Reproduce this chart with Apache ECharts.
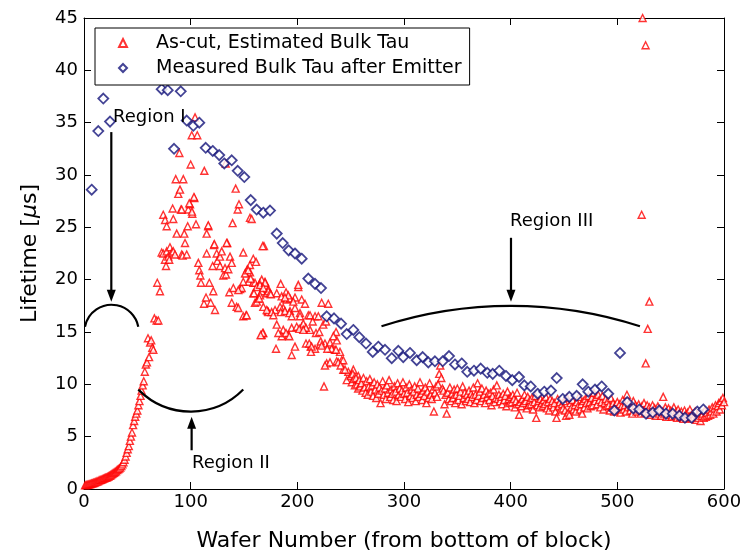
<!DOCTYPE html>
<html>
<head>
<meta charset="utf-8">
<script src="https://cdn.jsdelivr.net/npm/echarts@6/dist/echarts.min.js"></script>
<style>
  html, body { margin: 0; padding: 0; background: #fff; }
  #chart { width: 742px; height: 552px; }
</style>
</head>
<body>
<div id="chart"></div>
<script>
const FONT = 'DejaVu Sans';

// as-cut estimated bulk tau, bottom of block: one wafer each from wafer 1
const riseStart = 1;
const riseTau = [
  0.35, 0.38, 0.40, 0.42, 0.45, 0.48, 0.52, 0.55, 0.58, 0.62,
  0.66, 0.70, 0.74, 0.80, 0.85, 0.88, 0.92, 0.98, 1.02, 1.06,
  1.10, 1.15, 1.20, 1.25, 1.32, 1.40, 1.48, 1.55, 1.62, 1.70,
  1.80, 1.88, 1.95, 2.05, 2.20, 2.35, 2.55, 2.80, 3.10, 3.45,
  3.80, 4.10, 4.60, 5.00, 5.40, 6.10, 6.50, 6.90, 7.20, 7.50,
  8.00, 8.40, 8.90, 9.40, 9.90, 10.30, 11.20, 11.90, 12.10, 14.40,
  12.60, 14.00, 14.20, 13.50, 13.30, 16.30
];

// as-cut, scattered region (wafer, tau)
const peakPoints = [
  [68.1, 16.1], [69.7, 16.1], [68.7, 19.7], [71.2, 18.9], [72.8, 22.6], [74.3, 26.2], [76, 25.7], [77.5, 25.1],
  [74.3, 22.5], [75.9, 21.9], [76.9, 21.3], [77.5, 22.7], [79, 22.2], [79.9, 21.9], [80.6, 23.1], [82.2, 22.6],
  [83.7, 22.7], [83.7, 25.8], [83.1, 26.8], [85.3, 22.4], [86, 29.6], [86.9, 24.4], [88.4, 28.2], [89.4, 32.1],
  [90, 28.6], [90.9, 26.7], [91.6, 22.4], [92.5, 22.3], [93.1, 29.6], [94, 24.4], [94.7, 23.5], [96.3, 22.4],
  [97.2, 25.1], [97.8, 26.7], [99.4, 27.2], [100, 31.0], [101, 33.8], [101.5, 26.3], [103.4, 27.8], [104.1, 35.5],
  [105, 25.3], [106.2, 33.8], [107.2, 21.6], [108.1, 20.9], [109.1, 20.4], [109.7, 19.7], [112.5, 17.7], [112.8, 30.4],
  [114.4, 18.3], [115, 24.4], [115, 22.5], [116.5, 25.1], [117.5, 19.7], [118.8, 17.8], [120.6, 21.3], [121.2, 18.9],
  [121.9, 23.3], [122.8, 17.1], [124.4, 22.5], [125, 21.8], [127.5, 21.3], [127.5, 22.2], [129.1, 22.7], [130.6, 20.4],
  [132.2, 21.1], [132.8, 31.1], [133.1, 20.5], [134.3, 23.5], [135.3, 21.0], [136.3, 18.8], [136.9, 22.2], [138.5, 21.6],
  [138.5, 17.8], [139.3, 25.4], [140, 19.2], [142.2, 28.7], [143.1, 17.4], [144.1, 26.7], [144.7, 17.3], [145.3, 27.2],
  [146.3, 19.1], [147.8, 19.2], [149.3, 22.6], [149.3, 16.5], [151.9, 20.6], [151.9, 16.6], [153.1, 21.0], [154, 19.8],
  [155.6, 21.4], [155.6, 20.7], [155.6, 25.9], [158.7, 22.0], [158.7, 18.7], [158.7, 19.7], [160.3, 19.7], [160.3, 17.8],
  [161.3, 21.7], [163.4, 18.2], [165, 19.7], [166.6, 18.9], [166.6, 14.7], [168.1, 14.9], [168.7, 23.2], [169.7, 19.8],
  [171.3, 18.7], [172.2, 17.0], [172.8, 19.1], [157.2, 25.8], [151, 20.6], [154, 20.9], [156.3, 20.1], [149.3, 19.8],
  [144.7, 19.0], [166.6, 20.0], [161.9, 19.3], [165, 18.5], [172.8, 18.9], [174.4, 18.7], [180.7, 18.7], [185.3, 18.4],
  [188.4, 18.2], [190, 18.1], [193.1, 18.2], [197.8, 18.3], [200.9, 19.3], [204.1, 18.1], [207.2, 17.7], [152.5, 16.6],
  [168.1, 17.4], [172.8, 16.9], [179.1, 17.1], [186.8, 17.3], [193.1, 17.0], [197.8, 17.3], [202.5, 16.8], [210.3, 16.6],
  [216.6, 16.5], [219.7, 16.5], [180.7, 15.7], [186.8, 15.2], [191.5, 14.7], [185.3, 14.6], [194.7, 15.4], [199.4, 15.5],
  [204.1, 15.5], [207.2, 15.4], [211.9, 15.2], [208.1, 13.9], [212.5, 13.6], [216.6, 13.4], [221.2, 13.8], [225.9, 13.9],
  [230.6, 13.8], [235.3, 13.3], [240, 13.1], [237, 14.2], [197.8, 13.6], [194.7, 12.8], [227.5, 12.0], [230.6, 12.1],
  [236.9, 12.2], [241.6, 12.3], [243.1, 11.4], [247.8, 11.2], [246.3, 10.4], [225, 9.8],
  [165, 19.5], [169.7, 19.7], [168.1, 19.2], [159.4, 18.7], [175.1, 18.6], [162, 17.9], [164.4, 18.2], [184.4, 19.6],
  [200.9, 19.5], [189.4, 18.8], [191.5, 18.5], [188.4, 18.3], [196.2, 17.9], [171.3, 17.1], [175.9, 16.9], [183.8, 17.4],
  [184.4, 16.9], [188.4, 17.0], [192.5, 16.8], [194.7, 16.5], [222.8, 17.8], [229, 17.7], [177.5, 16.6], [202.5, 16.5],
  [211.9, 16.6], [214.4, 16.0], [224.3, 15.7], [226.9, 16.0], [205.6, 15.8], [208.1, 15.4], [201.8, 15.3], [205.6, 15.2],
  [167.5, 14.9], [165.6, 14.7], [182.2, 14.9], [189.4, 14.9], [192.5, 14.6], [217.5, 14.9], [220.6, 15.0], [236.3, 15.0],
  [233.8, 14.6], [211.2, 13.9], [213.4, 13.6], [221.9, 14.1], [222.8, 13.7], [230.6, 14.0], [232.2, 13.4], [228.1, 13.4],
  [236.3, 13.3], [180, 13.4], [212.8, 13.1], [225.9, 11.8], [238.4, 12.1], [243.1, 12.3], [240.6, 11.8], [244.7, 11.4],
  [252.5, 11.4], [251, 10.9], [257.2, 10.8], [255.6, 10.4],
  [103.1, 27.9], [98.7, 27.3], [91.6, 26.7], [101.2, 26.5], [116.5, 25.2], [133.7, 23.5], [122.2, 23.4], [167.5, 23.2]
];

// as-cut, upper part of block: one wafer each from wafer 250
const bandStart = 250;
const bandTau = [
  10.8, 10.2, 11.0, 10.5, 9.9, 10.6, 10.0, 9.6, 10.4, 9.8,
  10.1, 9.4, 10.6, 9.7, 9.2, 10.3, 9.0, 9.8, 10.5, 9.3,
  9.9, 8.9, 10.2, 9.5, 8.7, 10.0, 9.1, 9.7, 8.2, 9.4,
  10.3, 9.0, 9.6, 8.6, 9.9, 9.2, 10.4, 8.8, 9.5, 9.1,
  8.5, 9.8, 9.3, 8.4, 10.1, 9.0, 9.6, 8.8, 9.4, 10.2,
  9.1, 8.6, 9.7, 9.2, 8.3, 10.0, 8.9, 9.5, 8.7, 9.3,
  9.8, 8.4, 9.0, 9.6, 8.8, 10.2, 9.1, 8.5, 9.4, 8.9,
  9.7, 8.2, 9.3, 8.7, 10.1, 9.0, 8.6, 9.5, 7.4, 9.2,
  9.8, 8.8, 10.0, 11.0, 11.8, 10.6, 9.6, 9.4, 8.1, 9.0,
  7.2, 9.2, 8.6, 9.7, 8.4, 9.1, 8.7, 9.5, 8.2, 9.0,
  9.6, 8.5, 8.9, 9.3, 8.1, 9.8, 8.7, 9.2, 8.4, 9.0,
  8.6, 9.4, 8.3, 9.1, 8.8, 9.7, 8.2, 9.0, 8.5, 10.1,
  8.9, 9.3, 8.4, 9.6, 8.7, 9.0, 8.2, 9.4, 8.8, 9.1,
  8.5, 9.2, 8.0, 8.9, 9.5, 8.3, 8.7, 9.9, 8.6, 9.0,
  8.4, 8.8, 8.1, 9.1, 8.5, 8.9, 7.9, 9.3, 8.6, 8.2,
  8.8, 8.3, 9.0, 8.6, 7.8, 8.4, 9.2, 8.1, 7.1, 8.3,
  7.9, 8.6, 8.2, 9.0, 8.4, 7.7, 8.8, 8.0, 8.5, 8.1,
  8.7, 7.6, 8.3, 8.9, 6.8, 8.0, 8.4, 7.8, 8.6, 8.2,
  7.9, 8.5, 8.1, 8.8, 7.7, 8.3, 7.5, 8.6, 8.0, 8.4,
  7.8, 8.2, 7.4, 6.8, 8.6, 7.9, 8.3, 7.6, 8.1, 7.7,
  8.4, 7.5, 7.0, 8.7, 7.3, 7.1, 8.2, 7.8, 8.5, 7.6,
  8.0, 7.4, 8.3, 7.9, 8.8, 7.6, 8.1, 7.2, 8.4, 7.8,
  8.6, 8.2, 7.7, 8.9, 8.3, 7.9, 8.7, 8.0, 9.2, 8.4,
  8.8, 8.1, 9.0, 8.5, 7.8, 8.3, 8.9, 7.6, 8.2, 8.6,
  7.9, 8.4, 8.0, 7.5, 8.7, 7.8, 8.2, 7.4, 8.0, 7.6,
  8.3, 7.7, 8.1, 7.3, 7.9, 8.5, 7.6, 8.0, 7.4, 9.0,
  7.8, 8.2, 7.5, 7.9, 7.2, 8.4, 7.7, 8.0, 7.4, 7.8,
  8.1, 7.6, 7.2, 7.9, 7.5, 8.2, 7.3, 7.7, 8.0, 7.4,
  7.8, 7.1, 7.6, 8.0, 7.3, 7.7, 7.0, 7.5, 7.9, 7.2,
  7.6, 7.0, 7.4, 8.8, 7.2, 7.8, 6.9, 7.3, 7.7, 7.1,
  7.5, 6.9, 7.3, 7.8, 7.0, 7.4, 6.8, 7.6, 7.2, 6.9,
  7.4, 7.0, 6.7, 7.5, 7.1, 6.8, 7.3, 6.9, 7.6, 7.0,
  6.7, 7.2, 6.9, 7.4, 6.6, 7.1, 6.8, 7.3, 6.5, 7.0,
  7.2, 6.8, 7.5, 6.9, 7.3, 7.0, 7.6, 7.1, 7.4, 7.8,
  7.2, 7.7, 8.0, 7.4, 7.9, 8.2, 7.6, 8.4, 8.0, 8.7,
  8.3
];

// as-cut outliers near wafer 525
const spikePoints = [[522.8, 26.2], [523.7, 45.0], [526.5, 42.4], [530, 17.9], [528.5, 15.3], [526.6, 12.0]];

// measured bulk tau after emitter (wafer, tau)
const emitterPoints = [
  [7.2, 28.6], [13.4, 34.2], [18.1, 37.3], [24.4, 35.1], [72.8, 38.2], [78.5, 38.1], [84.4, 32.5], [90.7, 38.0],
  [96.3, 35.2], [102.5, 34.7], [108.1, 35.0], [114.1, 32.6], [120.7, 32.3], [126.8, 31.9], [131.5, 31.1], [138.5, 31.4],
  [144.1, 30.4], [150.3, 29.8], [156.3, 27.6], [161.9, 26.7], [168.1, 26.4], [174.4, 26.6], [180.7, 24.4], [186.3, 23.5],
  [191.9, 22.8], [197.8, 22.5], [204.1, 22.0], [210.3, 20.1], [216.6, 19.6], [222.2, 19.2], [227.5, 16.5], [234.4, 16.3],
  [241, 15.8], [246.3, 14.8], [252.5, 15.2], [258.1, 14.5], [264.4, 13.9], [270.7, 13.1], [275.9, 13.6], [282.2, 13.3],
  [288.5, 12.5], [294.7, 13.2], [299.3, 12.6], [305.6, 13.0], [311.9, 12.3], [317.5, 12.6], [322.8, 12.1], [329, 12.2],
  [336.3, 12.2], [342.2, 12.7], [347.8, 11.9], [354.1, 12.0], [359.3, 11.2], [365.6, 11.3], [371.9, 11.5], [378.1, 11.1],
  [383.2, 11.0], [389.3, 11.3], [395.6, 10.8], [401.5, 10.4], [407.8, 10.7], [412.8, 9.9], [418.8, 9.8], [425.3, 9.1],
  [431.5, 9.3], [437.8, 9.4], [443.2, 10.6], [448.8, 8.6], [455, 8.8], [461.9, 8.9], [467.5, 10.0], [472.8, 9.3],
  [479.1, 9.5], [485.3, 9.8], [491.5, 9.1], [497.2, 7.5], [502.5, 13.0], [509.3, 8.3], [515, 7.7], [520.6, 7.6],
  [526.9, 7.2], [533.2, 7.3], [539.3, 7.5], [545.6, 7.2], [551.9, 7.2], [558.1, 7.0], [563.4, 6.8], [569.7, 6.8],
  [575, 7.4], [580.6, 7.6]
];

// annotations, in data units
const arcs = [ // [left wafer, right wafer, tau at ends, tau at apex]
  [0.9, 50.9, 15.5, 17.6],
  [50.9, 149.3, 9.5, 7.4],
  [278.9, 521.2, 15.55, 17.5]
];
const arrows = [ // [wafer, tau from, tau to (tip)]
  [25.6, 34.1, 17.9],
  [100.9, 3.7, 6.9],
  [400.3, 24.0, 17.9]
];
const regionNames = ['Region I', 'Region II', 'Region III'];
const regionPos = [[27.2, 35.5], [101.2, 2.5], [399.4, 25.6]];

const asCut = [];
riseTau.forEach((v, i) => asCut.push([riseStart + i, v]));
peakPoints.forEach(p => asCut.push(p));
bandTau.forEach((v, i) => asCut.push([bandStart + i, v]));
spikePoints.forEach(p => asCut.push(p));

function renderArc(params, api) {
  const p1 = api.coord([api.value(0), api.value(2)]);
  const p2 = api.coord([api.value(1), api.value(2)]);
  const pa = api.coord([(api.value(0) + api.value(1)) / 2, api.value(3)]);
  const w = (p2[0] - p1[0]) / 2;
  const s = Math.abs(pa[1] - p1[1]);
  const r = (w * w + s * s) / (2 * s);
  const up = pa[1] < p1[1];
  const cx = pa[0];
  const cy = up ? pa[1] + r : pa[1] - r;
  const a1 = Math.atan2(p1[1] - cy, p1[0] - cx);
  const a2 = Math.atan2(p2[1] - cy, p2[0] - cx);
  return {
    type: 'arc',
    shape: up
      ? { cx, cy, r, startAngle: a1, endAngle: a2, clockwise: true }
      : { cx, cy, r, startAngle: a2, endAngle: a1, clockwise: true },
    style: { stroke: '#000', lineWidth: 2.2, fill: null }
  };
}

function renderArrow(params, api) {
  const a = api.coord([api.value(0), api.value(1)]);
  const b = api.coord([api.value(0), api.value(2)]);
  const dir = b[1] > a[1] ? 1 : -1;
  const headLen = 12, headHalf = 4.5;
  return {
    type: 'group',
    children: [
      { type: 'line', shape: { x1: a[0], y1: a[1], x2: b[0], y2: b[1] - dir * headLen * 0.6 },
        style: { stroke: '#000', lineWidth: 2.2 } },
      { type: 'polygon', shape: { points: [[b[0], b[1]], [b[0] - headHalf, b[1] - dir * headLen], [b[0] + headHalf, b[1] - dir * headLen]] },
        style: { fill: '#000' } }
    ]
  };
}

function renderLabel(params, api) {
  const p = api.coord([api.value(0), api.value(1)]);
  return {
    type: 'text',
    style: { text: regionNames[params.dataIndex], x: p[0], y: p[1], fill: '#000',
      font: '18px "' + FONT + '"', align: 'left', verticalAlign: 'middle' }
  };
}

const chart = echarts.init(document.getElementById('chart'));

const xBase = { type: 'value', min: 0, max: 600, interval: 100, splitLine: { show: false },
  axisLine: { show: true, onZero: false, lineStyle: { color: '#000', width: 1 } },
  axisTick: { show: true, inside: true, length: 7, lineStyle: { color: '#000' } } };
const yBase = { type: 'value', min: 0, max: 45, interval: 5, splitLine: { show: false },
  axisLine: { show: true, onZero: false, lineStyle: { color: '#000', width: 1 } },
  axisTick: { show: true, inside: true, length: 7, lineStyle: { color: '#000' } } };

chart.setOption({
  animation: false,
  backgroundColor: '#fff',
  textStyle: { fontFamily: FONT },
  grid: { left: 84, right: 18, top: 18, bottom: 63, containLabel: false, outerBoundsMode: 'none' },
  legend: {
    left: 95, top: 28, orient: 'vertical',
    padding: [5, 8, 7, 23], itemGap: 5, itemWidth: 8, itemHeight: 8,
    borderColor: '#000', borderWidth: 1, backgroundColor: '#fff', borderRadius: 0,
    textStyle: { fontFamily: FONT, fontSize: 19, color: '#000', lineHeight: 20, padding: [0, 0, 0, 24] },
    data: ['As-cut, Estimated Bulk Tau', 'Measured Bulk Tau after Emitter']
  },
  xAxis: [
    Object.assign({}, xBase, {
      position: 'bottom',
      name: 'Wafer Number (from bottom of block)', nameLocation: 'middle', nameGap: 41,
      nameTextStyle: { fontFamily: FONT, fontSize: 22, color: '#000' },
      axisLabel: { fontFamily: FONT, fontSize: 18, color: '#000', margin: 4 }
    }),
    Object.assign({}, xBase, { position: 'top', axisLabel: { show: false } })
  ],
  yAxis: [
    Object.assign({}, yBase, {
      position: 'left',
      name: '{n|Lifetime [}{m|μ}{n|s]}', nameLocation: 'middle', nameGap: 43,
      nameTextStyle: { rich: {
        n: { fontFamily: FONT, fontSize: 22, color: '#000' },
        m: { fontFamily: FONT, fontSize: 22, color: '#000', fontStyle: 'italic' }
      } },
      axisLabel: { fontFamily: FONT, fontSize: 18, color: '#000', margin: 6 }
    }),
    Object.assign({}, yBase, { position: 'right', axisLabel: { show: false } })
  ],
  series: [
    {
      name: 'As-cut, Estimated Bulk Tau', type: 'scatter', data: asCut,
      symbol: 'triangle', symbolSize: 7,
      itemStyle: { color: '#fff', borderColor: '#ff0000', borderWidth: 1.4 },
      emphasis: { disabled: true }, z: 2
    },
    {
      name: 'Measured Bulk Tau after Emitter', type: 'scatter', data: emitterPoints,
      symbol: 'diamond', symbolSize: 10,
      itemStyle: { color: '#fff', borderColor: '#14147a', borderWidth: 1.8 },
      emphasis: { disabled: true }, z: 3
    },
    { type: 'custom', renderItem: renderArc, data: arcs, silent: true, clip: false, z: 4,
      encode: { x: [0, 1], y: [2, 3] } },
    { type: 'custom', renderItem: renderArrow, data: arrows, silent: true, clip: false, z: 4,
      encode: { x: 0, y: [1, 2] } },
    { type: 'custom', renderItem: renderLabel, data: regionPos, silent: true, clip: false, z: 4 }
  ]
});
</script>
</body>
</html>
